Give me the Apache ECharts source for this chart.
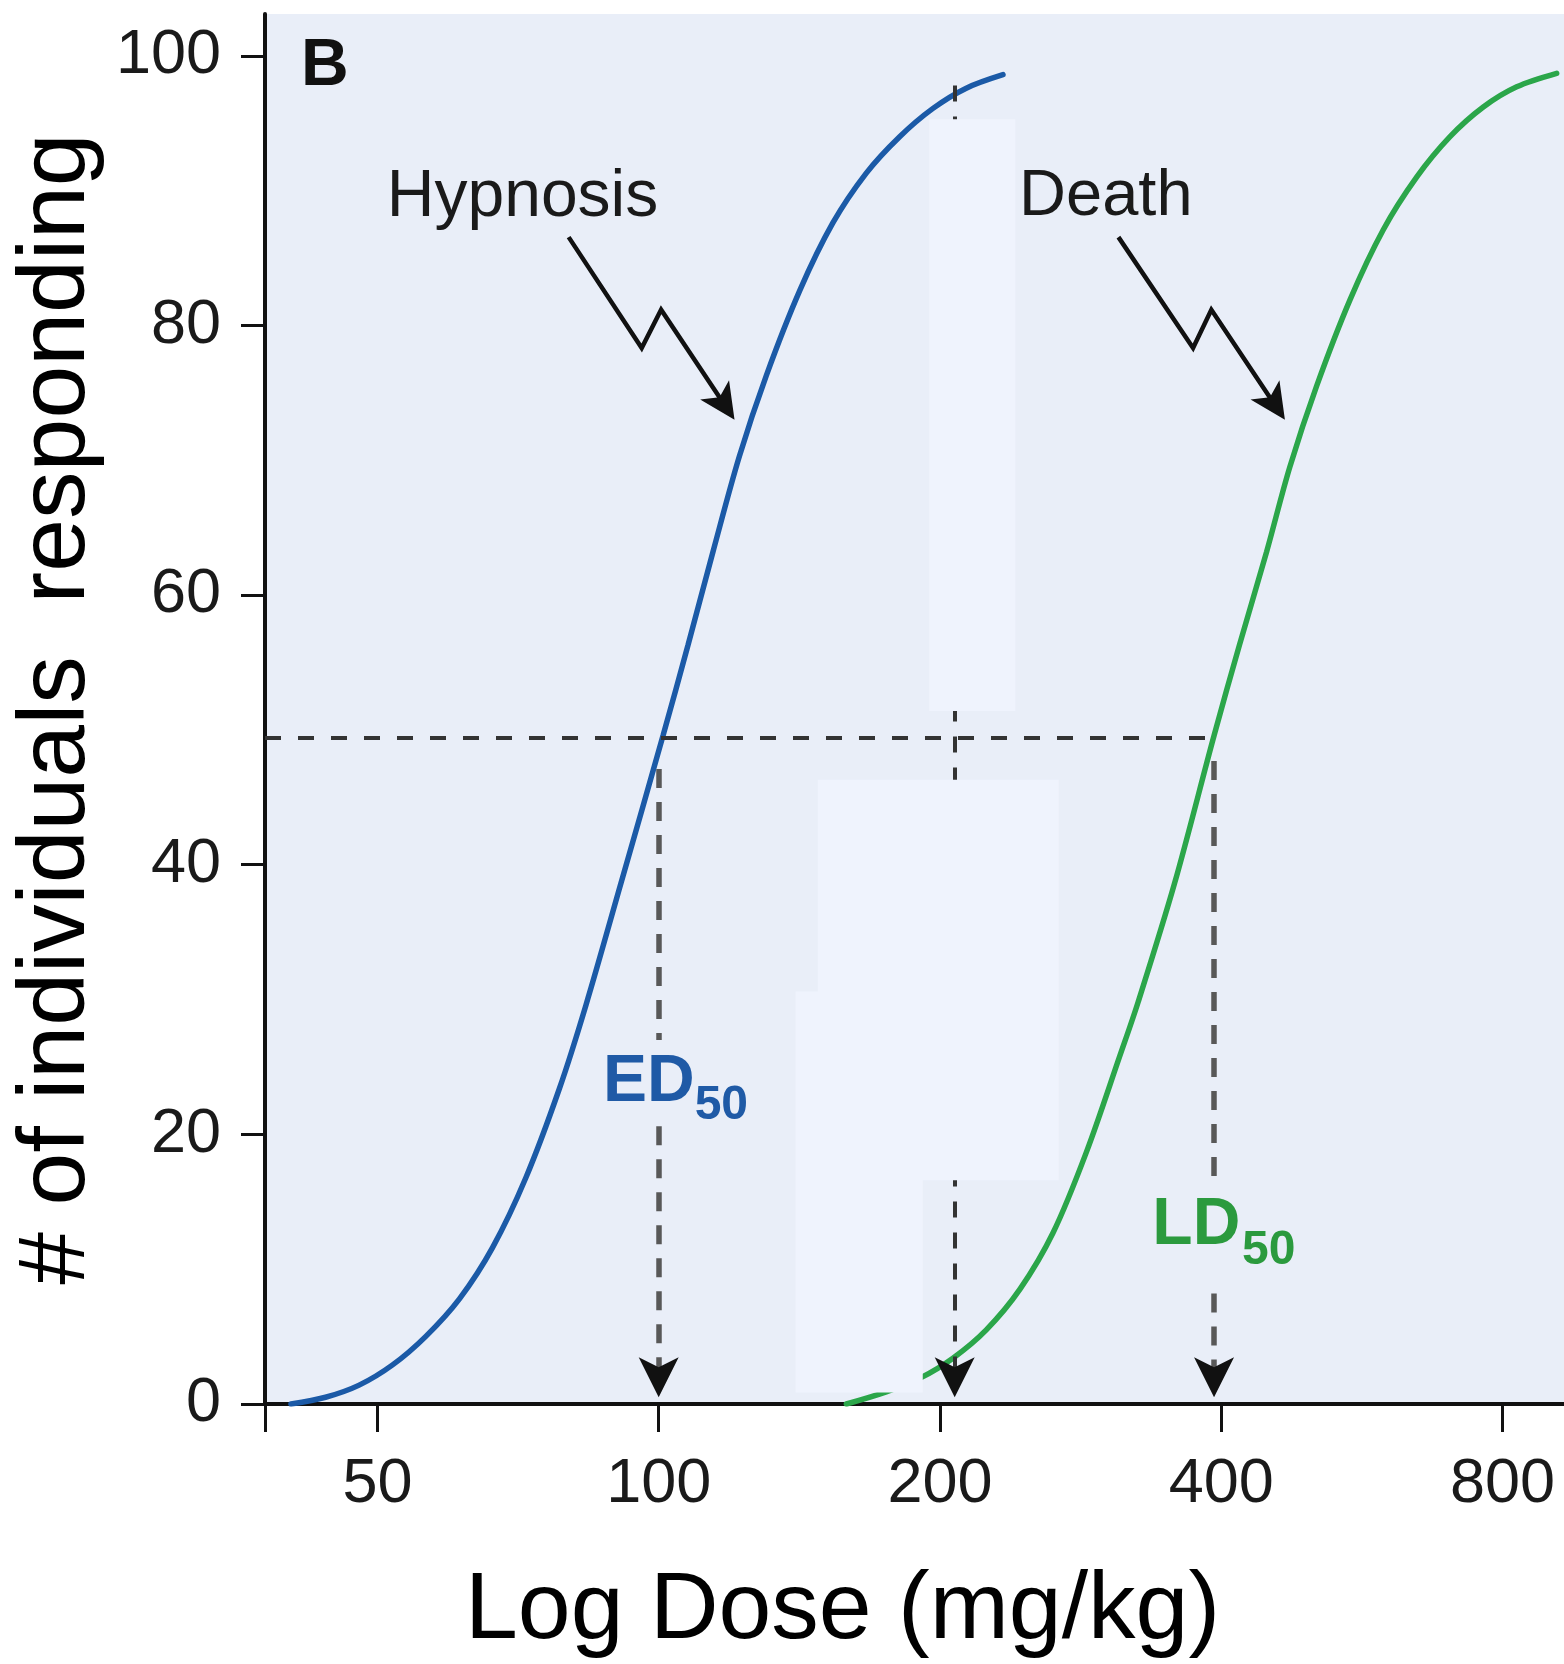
<!DOCTYPE html>
<html>
<head>
<meta charset="utf-8">
<script src="https://cdn.jsdelivr.net/npm/echarts@6/dist/echarts.min.js"></script>
<style>
html,body{margin:0;padding:0;background:#ffffff;}
#chart{width:1564px;height:1664px;}
</style>
</head>
<body>
<div id="chart"></div>
<script>
// ---- data (dose in mg/kg, % responding) ----
const hypnosisDose = [40.4, 44.0, 47.8, 51.9, 56.3, 61.2, 66.4, 72.1, 78.3, 83.6, 91.1, 101.1, 107.5, 114.3, 122.0, 130.4, 141.6, 153.6, 166.8, 181.1, 196.6, 213.4, 233.6];
const hypnosisPct  = [0.0, 0.5, 1.4, 2.9, 5.0, 7.8, 11.6, 16.8, 23.4, 29.6, 38.6, 49.6, 56.3, 63.2, 70.3, 76.3, 82.6, 87.6, 91.3, 94.0, 96.1, 97.6, 98.6];
const deathDose = [158.8, 175.2, 190.2, 206.5, 224.2, 243.5, 264.3, 287.0, 311.5, 325.9, 356.5, 393.1, 418.4, 447.3, 473.7, 506.0, 549.4, 596.4, 647.5, 703.0, 763.1, 828.6, 914.3];
const deathPct  = [0.0, 0.9, 1.9, 3.4, 5.5, 8.5, 12.7, 18.7, 25.8, 29.8, 38.6, 49.6, 56.3, 63.2, 69.5, 75.5, 81.9, 87.1, 91.0, 94.0, 96.2, 97.7, 98.7];
const xTickLabels = [50, 100, 200, 400, 800];
const yTickLabels = [0, 20, 40, 60, 80, 100];
const ED50 = 100;
const LD50 = 393;
const halfLevel = 49.4;
const thirdDose = 207.4;

const L = d => Math.log2(d);
const FONT = '"Liberation Sans", Arial, Helvetica, sans-serif';
const X_MIN = L(37.9), X_MAX = L(931);
const BLUE = '#1b5aa7', GREEN = '#2ba64a', BLUE_TXT = '#1f5aa6', GREEN_TXT = '#2b9a3e';

const dashDark = {color: '#333333', width: 4, type: [16, 17]};
const dashThird = {color: '#333333', width: 4, type: [16, 15]};
const dashGray = {color: '#585858', width: 5.5, type: [19, 14]};

function textPoint(dose, pct, text, size, color, bold) {
  return {
    coord: [L(dose), pct], symbol: 'circle', symbolSize: 1,
    itemStyle: {color: 'rgba(0,0,0,0)'},
    label: {show: true, position: 'inside', formatter: text, fontSize: size,
            fontWeight: bold ? 'bold' : 'normal', color: color, fontFamily: FONT}
  };
}
// anchor of the arrow symbol is its tip
function arrowPoint(dose, pct, rot, size) {
  return {coord: [L(dose), pct], symbol: 'arrow', symbolSize: size, symbolRotate: rot,
          itemStyle: {color: '#111111'}, label: {show: false}};
}

const chart = echarts.init(document.getElementById('chart'), null, {renderer: 'canvas'});
chart.setOption({
  animation: false,
  textStyle: {fontFamily: FONT},
  title: {text: 'B', left: 301, top: 34, padding: 0,
          textStyle: {fontSize: 66, fontWeight: 'bold', color: '#111111', fontFamily: FONT}},
  grid: {left: 265, right: 0, top: 14, bottom: 260, show: true,
         backgroundColor: '#e9eef8', borderWidth: 0, containLabel: false, outerBoundsMode: 'none'},
  xAxis: {
    type: 'value', min: X_MIN, max: X_MAX,
    axisLine: {show: true, onZero: false, lineStyle: {color: '#111111', width: 4}},
    axisTick: {show: true, length: 28, lineStyle: {color: '#111111', width: 3},
               customValues: [X_MIN].concat(xTickLabels.map(L))},
    axisLabel: {customValues: xTickLabels.map(L), margin: 49, fontSize: 63, color: '#1a1a1a', fontFamily: FONT,
                formatter: v => String(Math.round(Math.pow(2, v)))},
    splitLine: {show: false},
    name: 'Log Dose (mg/kg)', nameLocation: 'middle', nameGap: 160,
    nameTextStyle: {fontSize: 95, color: '#000000', fontFamily: FONT, padding: [0, 144, 0, 0]}
  },
  yAxis: {
    type: 'value', min: 0, max: 103.1,
    axisLine: {show: true, onZero: false, lineStyle: {color: '#111111', width: 4}},
    axisTick: {show: true, length: 24, lineStyle: {color: '#111111', width: 3}, customValues: yTickLabels},
    axisLabel: {customValues: yTickLabels, margin: 44, fontSize: 63, color: '#1a1a1a', fontFamily: FONT},
    splitLine: {show: false},
    name: '# of individuals  responding', nameLocation: 'middle', nameGap: 160, nameRotate: 90,
    nameTextStyle: {fontSize: 95, color: '#000000', fontFamily: FONT}
  },
  series: [
    {
      type: 'line', name: 'Hypnosis', z: 2, silent: true,
      data: hypnosisDose.map((d, i) => [L(d), hypnosisPct[i]]),
      smooth: 0.33, symbol: 'none', showSymbol: false,
      lineStyle: {color: BLUE, width: 5.5, cap: 'round'}
    },
    {
      type: 'line', name: 'Death', z: 2, silent: true,
      data: deathDose.map((d, i) => [L(d), deathPct[i]]),
      smooth: 0.33, symbol: 'none', showSymbol: false,
      lineStyle: {color: GREEN, width: 5.5, cap: 'round'}
    },
    {
      type: 'line', name: 'guides', data: [], silent: true,
      markLine: {
        silent: true, z: 5, symbol: ['none', 'none'], label: {show: false}, animation: false,
        data: [
          [{coord: [X_MIN, halfLevel], lineStyle: dashDark}, {coord: [L(LD50), halfLevel]}],
          [{coord: [L(ED50), 47.1], lineStyle: dashGray}, {coord: [L(ED50), 27.0]}],
          [{coord: [L(ED50), 20.6], lineStyle: dashGray}, {coord: [L(ED50), 2.0]}],
          [{coord: [L(LD50), 47.7], lineStyle: dashGray}, {coord: [L(LD50), 16.6]}],
          [{coord: [L(LD50), 8.2], lineStyle: dashGray}, {coord: [L(LD50), 2.0]}],
          [{coord: [L(thirdDose), 97.8], lineStyle: dashThird}, {coord: [L(thirdDose), 2.0]}]
        ]
      }
    },
    {
      type: 'line', name: 'patches', data: [], silent: true,
      markArea: {
        silent: true, z: 6, label: {show: false}, itemStyle: {color: '#eff3fd'},
        data: [
          [{coord: [L(194.8), 95.3]}, {coord: [L(240.8), 51.4]}],
          [{coord: [L(148.0), 46.3]}, {coord: [L(268.0), 16.6]}],
          [{coord: [L(140.1), 30.6]}, {coord: [L(191.7), 0.85]}]
        ]
      }
    },
    {
      type: 'line', name: 'hypnosis pointer', z: 7, silent: true, symbol: 'none', showSymbol: false,
      data: [[L(80.1), 86.55], [L(95.9), 78.32], [L(100.6), 81.16], [L(117.8), 74.05]],
      lineStyle: {color: '#111111', width: 4.5, join: 'miter'}
    },
    {
      type: 'line', name: 'death pointer', z: 7, silent: true, symbol: 'none', showSymbol: false,
      data: [[L(310.5), 86.55], [L(373.2), 78.32], [L(390.4), 81.16], [L(457.2), 74.05]],
      lineStyle: {color: '#111111', width: 4.5, join: 'miter'}
    },
    {
      type: 'line', name: 'annotations', data: [], silent: true,
      markPoint: {
        silent: true, z: 8, label: {show: false}, animation: false,
        data: [
          arrowPoint(120.55, 73.0, -146.4, [26, 36]),
          arrowPoint(468.0, 73.0, -146.4, [26, 36]),
          arrowPoint(ED50, 0.5, 180, [30, 40]),
          arrowPoint(LD50, 0.5, 180, [30, 40]),
          arrowPoint(thirdDose, 0.5, 180, [30, 40]),
          textPoint(71.5, 89.5, 'Hypnosis', 66, '#1a1a1a', false),
          textPoint(301, 89.5, 'Death', 65, '#1a1a1a', false),
          textPoint(97.6, 23.85, 'ED', 66, BLUE_TXT, true),
          textPoint(116.7, 22.1, '50', 48, BLUE_TXT, true),
          textPoint(376.2, 13.2, 'LD', 66, GREEN_TXT, true),
          textPoint(449.7, 11.4, '50', 48, GREEN_TXT, true)
        ]
      }
    }
  ]
});
</script>
</body>
</html>
